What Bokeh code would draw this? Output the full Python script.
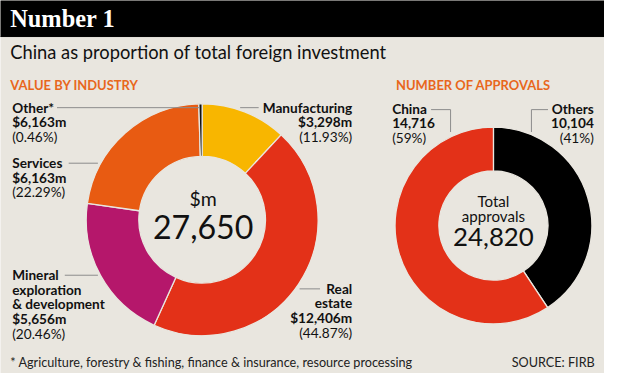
import math
from bokeh.plotting import figure
from bokeh.models import Range1d, ColumnDataSource
from bokeh.core.properties import value
from bokeh.embed import file_html
from bokeh.resources import INLINE

# ---------------- data ----------------
industry_names = ["Manufacturing", "Real estate", "Mineral exploration & development", "Services", "Other*"]
industry_value_labels = ["$3,298m", "$12,406m", "$5,656m", "$6,163m", "$6,163m"]
industry_pct = [11.93, 44.87, 20.46, 22.29, 0.46]
industry_total = 27650

approval_names = ["Others", "China"]
approval_values = [10104, 14716]
approval_pct = [41, 59]
approval_total = 24820

title = "Number 1"
subtitle = "China as proportion of total foreign investment"
left_heading = "VALUE BY INDUSTRY"
right_heading = "NUMBER OF APPROVALS"
footnote = "* Agriculture, forestry & fishing, finance & insurance, resource processing"
source = "SOURCE: FIRB"

# ---------------- styles ----------------
BG = "#E9E6DF"
ORANGE_HEAD = "#E8671C"
industry_colors = ["#F8B600", "#E33118", "#B5176B", "#E85B12", "#111111"]
approval_colors = ["#000000", "#E33118"]
LEADER = "#8C8C8C"
FONT = "Lato"

W, H = 620, 389
PW, PH = 604, 373
S = PW / W                      # uniform scale from reference pixels to screen
VIS_H = PH / S                  # visible reference height


def Y(v):
    return H - v


def fs(px):
    return f"{px * S:.2f}px"


p = figure(width=PW, height=PH, x_range=Range1d(0, W), y_range=Range1d(Y(VIS_H), Y(0)),
           output_backend="svg", toolbar_location=None, x_axis_location=None,
           y_axis_location=None, min_border=0, background_fill_color=BG,
           border_fill_color=BG, outline_line_color=None)
p.grid.visible = False

# header bar
p.quad(left=[-10], right=[W + 10], top=[Y(-10)], bottom=[Y(37)], color="#000000")


def txt(x, y, s, size, style="normal", align="left", color="#111111", font=FONT, baseline="middle"):
    p.text(x=[x], y=[Y(y)], text=[s], text_font=value(font), text_font_size=fs(size),
           text_font_style=style, text_align=align, text_baseline=baseline, text_color=color)


txt(10, 18.5, title, 25, "bold", color="#FFFFFF", font="Liberation Serif")
txt(10, 53, subtitle, 18.8)
txt(10, 87, left_heading, 13.3, "bold", color=ORANGE_HEAD)
txt(406, 87, right_heading, 13.3, "bold", color=ORANGE_HEAD)
txt(10, 372, footnote, 13, color="#222222")
txt(610, 372, source, 13, align="right", color="#222222")


def donut(cx, cy, r_in, r_out, shares, colors):
    total = float(sum(shares))
    starts, ends, cum = [], [], 0.0
    for s in shares:
        starts.append(math.pi / 2 - 2 * math.pi * cum / total)
        cum += s
        ends.append(math.pi / 2 - 2 * math.pi * cum / total)
    src = ColumnDataSource(dict(start=starts, end=ends, color=colors))
    p.annular_wedge(x=cx, y=Y(cy), inner_radius=r_in, outer_radius=r_out,
                    start_angle="start", end_angle="end", direction="clock",
                    fill_color="color", line_color=BG, line_width=1.3, source=src)


donut(207, 225, 65, 119, industry_pct, industry_colors)
donut(506, 231, 56, 101, approval_values, approval_colors)

# centre texts
txt(208, 203, "$m", 20, align="center")
txt(208, 233, f"{industry_total:,}", 33, align="center")
txt(506, 206, "Total", 15.5, align="center")
txt(506, 221, "approvals", 15.5, align="center")
txt(506, 243, f"{approval_total:,}", 26.5, align="center")

# ---- industry labels ----
LH = 15


def block(x, y0, name_lines, val, pct, align):
    lines = [(s, "bold") for s in name_lines] + [(val, "bold"), (f"({pct:.2f}%)", "normal")]
    for i, (s, st) in enumerate(lines):
        txt(x, y0 + i * LH, s, 14, st, align)


# Manufacturing, Real estate, Mineral, Services, Other
block(361, 110, ["Manufacturing"], industry_value_labels[0], industry_pct[0], "right")
block(361, 296, ["Real", "estate"], industry_value_labels[1], industry_pct[1], "right")
block(12, 282, ["Mineral", "exploration", "& development"], industry_value_labels[2], industry_pct[2], "left")
block(12, 167, ["Services"], industry_value_labels[3], industry_pct[3], "left")
block(12, 110, ["Other*"], industry_value_labels[4], industry_pct[4], "left")

leaders = [
    ([58, 204], [110, 110]),
    ([246, 265], [110, 110]),
    ([307, 328], [296, 296]),
    ([66, 100], [282, 282]),
    ([70, 100], [167, 167]),
    ([442, 462, 462], [112, 112, 135]),
    ([562, 545, 545], [112, 112, 135]),
]
p.multi_line(xs=[a for a, b in leaders], ys=[[Y(v) for v in b] for a, b in leaders],
             line_color=LEADER, line_width=1)

# ---- approvals labels ----
for x, idx, align in [(402, 1, "left"), (609, 0, "right")]:
    txt(x, 111, approval_names[idx], 14, "bold", align)
    txt(x, 126, f"{approval_values[idx]:,}", 14, "bold", align)
    txt(x, 141, f"({approval_pct[idx]}%)", 14, "normal", align)

open("out.html", "w").write(file_html(p, INLINE))
